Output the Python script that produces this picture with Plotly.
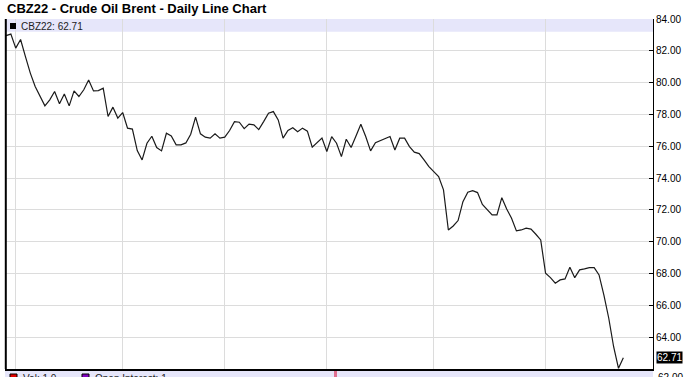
import plotly.graph_objects as go

title = "CBZ22 - Crude Oil Brent - Daily Line Chart"
symbol = "CBZ22"
prices = [
    82.96, 83.05, 82.17, 82.71, 81.64, 80.60, 79.76, 79.17, 78.54, 78.92,
    79.44, 78.67, 79.28, 78.54, 79.48, 79.13, 79.55, 80.16, 79.48, 79.50,
    79.65, 77.87, 78.46, 77.77, 78.12, 77.14, 77.08, 75.73, 75.14, 76.19,
    76.63, 75.92, 75.71, 76.82, 76.65, 76.09, 76.09, 76.21, 76.76, 77.83,
    76.78, 76.57, 76.51, 76.78, 76.51, 76.57, 76.99, 77.55, 77.51, 77.11,
    77.39, 77.35, 77.05, 77.55, 78.08, 78.18, 77.66, 76.51, 76.99, 77.16,
    76.91, 77.14, 76.95, 75.94, 76.23, 76.51, 75.67, 76.61, 76.19, 75.35,
    76.44, 75.92, 76.65, 77.39, 76.61, 75.71, 76.23, 76.36, 76.48, 76.61,
    75.77, 76.51, 76.51, 75.98, 75.63, 75.54, 75.14, 74.72, 74.41, 74.09,
    73.26, 70.74, 70.99, 71.33, 72.52, 73.11, 73.21, 73.09, 72.34, 71.98,
    71.69, 71.69, 72.77, 72.06, 71.48, 70.68, 70.74, 70.85, 70.79, 70.47,
    70.11, 68.02, 67.74, 67.39, 67.60, 67.66, 68.40, 67.74, 68.23, 68.29,
    68.37, 68.37, 67.91, 66.65, 65.19, 63.40, 62.04, 62.71,
]
days = list(range(len(prices)))
month_starts = [2, 24, 45, 66, 88, 111]
y_ticks = [64, 66, 68, 70, 72, 74, 76, 78, 80, 82, 84]
y_bottom_tick = 62
last_price = prices[-1]
vol_label = "Vol: 1.0"
oi_label = "Open Interest: 1"

FONT = "Liberation Sans, Arial, sans-serif"
LAV = "#e6e6fa"


def py(p):
    """pixel row -> paper y (plot area spans rows 19..369)"""
    return (369 - p) / 350


def px(p):
    """pixel column -> paper x (plot area spans columns 5..653)"""
    return (p - 5) / 648


fig = go.Figure()
fig.add_trace(go.Scatter(
    x=days, y=prices, mode="lines",
    line=dict(color="#1a1a1a", width=1.2),
    hoverinfo="skip", showlegend=False,
))

fig.update_layout(
    width=688, height=377,
    margin=dict(l=5, r=35, t=19, b=8),
    paper_bgcolor="white", plot_bgcolor="white",
    showlegend=False,
    xaxis=dict(
        range=[-0.206, 133.1], tickvals=month_starts, showticklabels=False,
        ticks="", showgrid=True, gridcolor="#dcdcdc", gridwidth=1,
        zeroline=False, showline=True, linecolor="black", linewidth=2,
        fixedrange=True,
    ),
    yaxis=dict(
        range=[62, 84], side="right", tickvals=y_ticks,
        ticktext=[f"{v:.2f}" for v in y_ticks],
        ticks="inside", ticklen=4, tickcolor="black",
        showgrid=True, gridcolor="#dcdcdc", gridwidth=1,
        zeroline=False, showline=True, linecolor="black", linewidth=1,
        tickfont=dict(family=FONT, size=10, color="black"),
        fixedrange=True,
    ),
    font=dict(family=FONT),
)

shapes = [
    dict(type="rect", xref="paper", yref="paper", x0=0, x1=1, y0=py(31.7), y1=1,
         fillcolor=LAV, line=dict(width=0), layer="below"),
    dict(type="rect", xref="paper", yref="paper", x0=0, x1=1, y0=py(400), y1=py(371),
         fillcolor=LAV, line=dict(width=0), layer="below"),
    dict(type="line", xref="paper", yref="paper", x0=px(5.8), x1=px(5.8), y0=0, y1=1,
         line=dict(color="black", width=2)),
    dict(type="rect", xref="paper", yref="paper", x0=px(10), x1=px(16),
         y0=py(29), y1=py(23), fillcolor="black", line=dict(width=0)),
    dict(type="rect", xref="paper", yref="paper", x0=px(10), x1=px(17),
         y0=py(381), y1=py(374), fillcolor="#e00000", line=dict(color="black", width=1)),
    dict(type="rect", xref="paper", yref="paper", x0=px(82), x1=px(89),
         y0=py(381), y1=py(374), fillcolor="#8000c0", line=dict(color="black", width=1)),
    dict(type="rect", xref="paper", yref="paper", x0=px(334), x1=px(337),
         y0=py(390), y1=py(371), fillcolor="#e07090", line=dict(width=0)),
]
fig.update_layout(shapes=shapes)

annotations = [
    dict(text=f"<b>{title}</b>", xref="paper", yref="paper", x=px(5), y=py(8),
         xanchor="left", yanchor="middle", showarrow=False,
         font=dict(family=FONT, size=13, color="black")),
    dict(text=f"{symbol}: {last_price:.2f}", xref="paper", yref="paper", x=px(19),
         y=py(26), xanchor="left", yanchor="middle", showarrow=False,
         font=dict(family=FONT, size=10, color="#222")),
    dict(text=f"{last_price:.2f}", xref="paper", yref="y", x=1, y=last_price,
         xanchor="left", yanchor="middle", xshift=3, showarrow=False, bgcolor="black",
         borderpad=0, font=dict(family=FONT, size=10, color="white")),
    dict(text=f"{y_bottom_tick:.2f}", xref="paper", yref="y", x=1, y=y_bottom_tick,
         xanchor="left", yanchor="middle", xshift=3, yshift=-8, showarrow=False,
         font=dict(family=FONT, size=10, color="black")),
    dict(text=vol_label, xref="paper", yref="paper", x=px(21), y=py(379),
         xanchor="left", yanchor="middle", showarrow=False,
         font=dict(family=FONT, size=10, color="#222")),
    dict(text=oi_label, xref="paper", yref="paper", x=px(93), y=py(379),
         xanchor="left", yanchor="middle", showarrow=False,
         font=dict(family=FONT, size=10, color="#222")),
]
fig.update_layout(annotations=annotations)

fig.write_html("out.html")
